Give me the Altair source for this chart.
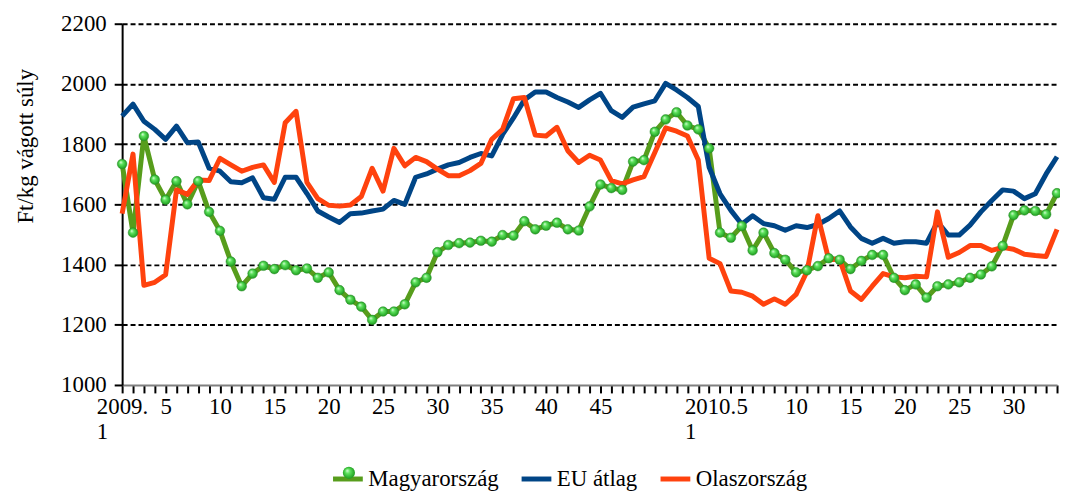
import altair as alt
import pandas as pd

# --- data ---
series_names = ["Magyarország", "EU átlag", "Olaszország"]
series_colors = ["#579d1c", "#004586", "#ff420e"]

# week numbers: 2009 weeks 1..53, 2010 weeks 1..34
weeks_2009 = list(range(1, 54))
weeks_2010 = list(range(1, 35))

hu = [1734, 1506, 1827, 1682, 1615, 1677, 1600, 1677, 1575, 1512,
      1410, 1328, 1370, 1396, 1385, 1398, 1381, 1387, 1356, 1374,
      1315, 1283, 1260, 1216, 1244, 1244, 1268, 1341, 1356, 1441,
      1465, 1471, 1473, 1479, 1476, 1498, 1496, 1544, 1517, 1529,
      1539, 1517, 1513, 1593, 1666, 1654, 1648, 1742, 1747, 1841,
      1882, 1906, 1862, 1849, 1786, 1506, 1489, 1528, 1447, 1506,
      1438, 1416, 1374, 1381, 1395, 1421, 1416, 1385, 1412, 1432,
      1432, 1356, 1315, 1334, 1290, 1328, 1334, 1341, 1356, 1367,
      1394, 1462, 1564, 1580, 1578, 1567, 1637]

eu = [1893, 1933, 1876, 1849, 1816, 1860, 1805, 1807, 1720, 1710,
      1675, 1672, 1688, 1622, 1617, 1690, 1690, 1636, 1578, 1558,
      1540, 1569, 1571, 1578, 1584, 1613, 1600, 1690, 1701, 1717,
      1731, 1739, 1756, 1769, 1761, 1832, 1887, 1947, 1973, 1973,
      1955, 1940, 1922, 1947, 1969, 1911, 1889, 1923, 1934, 1944,
      2002, 1980, 1955, 1925, 1723, 1635, 1580, 1534, 1562, 1536,
      1529, 1514, 1529, 1523, 1533, 1553, 1578, 1525, 1487, 1471,
      1487, 1471, 1476, 1476, 1471, 1542, 1498, 1498, 1531, 1575,
      1613, 1648, 1644, 1619, 1635, 1701, 1758]

it = [1569, 1767, 1331, 1341, 1366, 1648, 1633, 1681, 1679, 1753,
      1731, 1710, 1723, 1731, 1673, 1871, 1909, 1673, 1619, 1597,
      1594, 1598, 1626, 1720, 1644, 1786, 1728, 1756, 1742, 1717,
      1695, 1695, 1712, 1736, 1816, 1849, 1951, 1955, 1830, 1827,
      1856, 1778, 1739, 1763, 1747, 1679, 1668, 1681, 1692, 1772,
      1854, 1843, 1827, 1747, 1421, 1403, 1312, 1308, 1295, 1268,
      1286, 1268, 1301, 1377, 1562, 1416, 1418, 1312, 1284, 1328,
      1370, 1359, 1356, 1361, 1359, 1575, 1424, 1440, 1463, 1463,
      1447, 1457, 1451, 1434, 1430, 1427, 1517]

labelled_weeks_2009 = [1, 5, 10, 15, 20, 25, 30, 35, 40, 45]
labelled_weeks_2010 = [1, 5, 10, 15, 20, 25, 30]
y_ticks = [1000, 1200, 1400, 1600, 1800, 2000, 2200]

# --- build table ---
n = len(weeks_2009) + len(weeks_2010)
idx = list(range(n))
rows = []
for name, vals in zip(series_names, [hu, eu, it]):
    for i, v in zip(idx, vals):
        rows.append({"i": i, "series": name, "value": v})
df = pd.DataFrame(rows)
df_hu = pd.DataFrame({"i": idx, "value": hu, "mk": ["Magyarország"] * n})

# label expression
parts = []
for w in labelled_weeks_2009:
    pos = w - 1
    txt = "['2009.', '1']" if w == 1 else f"'{w}'"
    parts.append((pos, txt))
for w in labelled_weeks_2010:
    pos = len(weeks_2009) + w - 1
    txt = "['2010.', '1']" if w == 1 else f"'{w}'"
    parts.append((pos, txt))
label_expr = ""
for pos, txt in parts:
    label_expr += f"datum.value == {pos} ? {txt} : "
label_expr += "''"

FONT = "Liberation Serif"
FS = 23
start_2010 = len(weeks_2009)

x_axis = alt.Axis(
    values=idx,
    labelExpr=label_expr,
    labelOverlap=False,
    labelFlush=False,
    labelBound=False,
    tickSize=8,
    tickWidth=2,
    tickColor="black",
    domainColor="#808080",
    domainWidth=2,
    labelFont=FONT,
    labelFontSize=FS,
    labelColor="black",
    labelPadding=3,
    labelLineHeight=25,
    labelAlign={"condition": {"test": f"datum.value == 0 || datum.value == {start_2010}", "value": "left"}, "value": "center"},
    labelOffset={"condition": [{"test": "datum.value == 0", "value": -26},
                               {"test": f"datum.value == {start_2010}", "value": -14}], "value": 0},
    grid=False,
    title=None,
)

y_axis = alt.Axis(
    values=y_ticks,
    format="d",
    grid=True,
    gridDash=[5, 3],
    gridColor="black",
    gridWidth=2,
    gridOpacity={"condition": {"test": "datum.value == 1000", "value": 0}, "value": 1},
    domainColor="black",
    domainWidth=2,
    tickSize=8,
    tickWidth=2,
    tickColor="black",
    labelFont=FONT,
    labelFontSize=FS,
    labelColor="black",
    labelPadding=8,
    title="Ft/kg vágott súly",
    titleFont=FONT,
    titleFontSize=FS,
    titleFontWeight="normal",
    titleColor="black",
    titleAngle=270,
    titleX=-97,
    titleY=123,
    titleAlign="center",
    titleBaseline="middle",
)

x_scale = alt.Scale(domain=[0, n - 1], nice=False, zero=False)
y_scale = alt.Scale(domain=[1000, 2200], nice=False, zero=False)

LEG_Y = 441

lines = alt.Chart(df).mark_line(strokeWidth=5, strokeJoin="round").encode(
    x=alt.X("i:Q", scale=x_scale, axis=x_axis),
    y=alt.Y("value:Q", scale=y_scale, axis=y_axis),
    color=alt.Color(
        "series:N",
        scale=alt.Scale(domain=series_names, range=series_colors),
        sort=series_names,
        legend=alt.Legend(
            orient="none",
            legendX=210,
            legendY=LEG_Y,
            direction="horizontal",
            title=None,
            symbolType="stroke",
            symbolStrokeWidth=5,
            symbolSize=900,
            labelFont=FONT,
            labelFontSize=FS,
            labelColor="black",
            labelOffset=3,
            columnPadding=12,
            padding=0,
        ),
    ),
    order=alt.Order("i:Q"),
)

sphere = alt.RadialGradient(
    gradient="radial",
    stops=[
        alt.GradientStop(offset=0, color="#e6ffe6"),
        alt.GradientStop(offset=0.35, color="#5ee35e"),
        alt.GradientStop(offset=1, color="#169416"),
    ],
    x1=0.35, y1=0.3, r1=0, x2=0.5, y2=0.5, r2=0.55,
)

points = alt.Chart(df_hu).mark_point(
    filled=True, size=95, fill=sphere, stroke="#2a8a2a", strokeWidth=0.5, opacity=1
).encode(
    x=alt.X("i:Q", scale=x_scale, axis=x_axis),
    y=alt.Y("value:Q", scale=y_scale, axis=y_axis),
    shape=alt.Shape(
        "mk:N",
        scale=alt.Scale(domain=["Magyarország"], range=["circle"]),
        legend=alt.Legend(
            orient="none",
            legendX=217,
            legendY=LEG_Y,
            title=None,
            symbolFillColor="#3ccf3c",
            symbolStrokeColor="#2a8a2a",
            symbolStrokeWidth=0.5,
            symbolSize=150,
            symbolOpacity=1,
            labelExpr="''",
            labelFont=FONT,
            labelFontSize=FS,
            padding=0,
        ),
    ),
)

chart = (
    alt.layer(lines, points)
    .resolve_legend(color="independent", shape="independent")
    .properties(
        width=942,
        height=364,
        autosize=alt.AutoSizeParams(type="none"),
        padding={"left": 115, "top": 14, "right": 3, "bottom": 105},
        background="white",
    )
    .configure_view(stroke=None)
)

chart.save("out.html", embed_options={"renderer": "svg", "actions": False})
